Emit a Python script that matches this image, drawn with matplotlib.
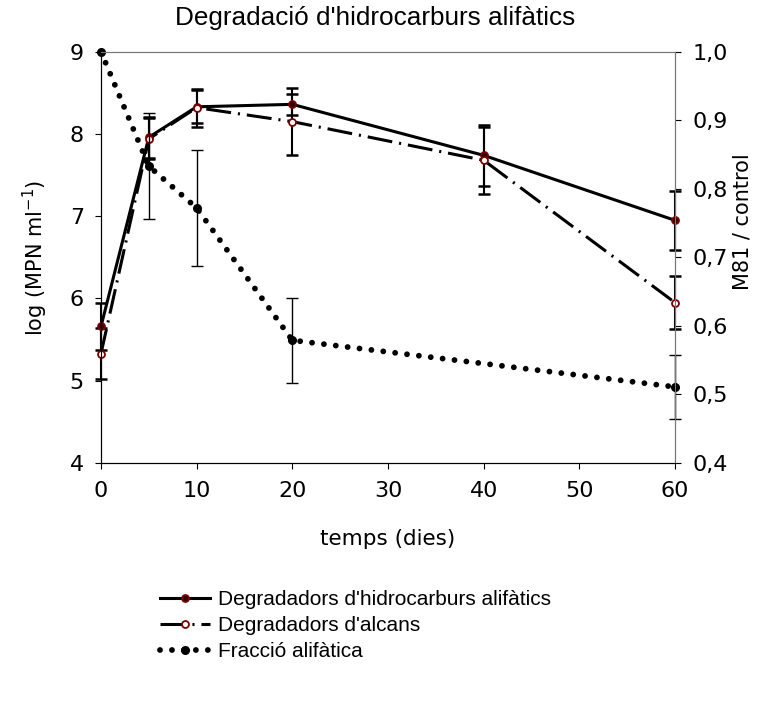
import matplotlib
matplotlib.use('Agg')
import matplotlib.pyplot as plt

# dies de mostreig
days = [0, 5, 10, 20, 40, 60]

# log(MPN/ml) dels degradadors
hidro = [5.66, 7.96, 8.33, 8.36, 7.74, 6.95]
hidro_err = [0.29, 0.25, 0.20, 0.13, 0.37, 0.36]
alcans = [5.33, 7.94, 8.32, 8.15, 7.68, 5.95]
alcans_err = [0.31, 0.25, 0.23, 0.41, 0.41, 0.32]

# fraccio alifatica restant (M81/control)
frac_days = [0, 5, 10, 20, 60]
frac = [1.0, 0.833, 0.772, 0.579, 0.511]
frac_err = [0.0, 0.077, 0.085, 0.062, 0.047]

left_ticks = [4, 5, 6, 7, 8, 9]
right_ticks = [0.4, 0.5, 0.6, 0.7, 0.8, 0.9, 1.0]
right_labels = ['0,4', '0,5', '0,6', '0,7', '0,8', '0,9', '1,0']
x_ticks = [0, 10, 20, 30, 40, 50, 60]

plt.rcParams['lines.scale_dashes'] = False
tick_font = 'DejaVu Sans'
text_font = 'Liberation Sans'
red = '#7a0000'


def no_clip(container):
    # deixa veure les barres d'error sobre els eixos laterals
    for part in container.lines[1:]:
        for artist in part:
            artist.set_clip_on(False)


fig = plt.figure(figsize=(7.79, 7.06), dpi=100, facecolor='white')
ax = fig.add_axes([101/779, 1-463/706, 574/779, 411.3/706])
ax2 = ax.twinx()

ax.plot(days, hidro, color='black', lw=2.2, marker='o', ms=5,
        mfc='#300000', mec=red, mew=1.3, zorder=3, clip_on=False,
        label="Degradadors d'hidrocarburs alifàtics")
no_clip(ax.errorbar(days, hidro, yerr=hidro_err, fmt='none', ecolor='black',
                    elinewidth=1.5, capsize=4.5, capthick=1.8, zorder=2))
ax.plot(days, alcans, color='black', lw=2.2, dashes=(18, 5, 1.5, 5),
        marker='o', ms=5, mfc='white', mec=red, mew=1.3, zorder=3,
        clip_on=False, label="Degradadors d'alcans")
no_clip(ax.errorbar(days, alcans, yerr=alcans_err, fmt='none', ecolor='black',
                    elinewidth=1.5, capsize=4.5, capthick=1.8, zorder=2))

ax2.plot(frac_days, frac, color='black', lw=4.2, linestyle=(0, (0.01, 8.6)),
         dash_capstyle='round', marker='o', ms=5.5, mfc='black', mec='black',
         label='Fracció alifàtica', clip_on=False)
no_clip(ax2.errorbar(frac_days[1:], frac[1:], yerr=frac_err[1:], fmt='none',
                     ecolor='black', elinewidth=1.0, capsize=4.5,
                     capthick=1.0))

ax.set_xlim(0, 60)
ax.set_ylim(4, 9)
ax2.set_ylim(0.4, 1.0)
ax.set_xticks(x_ticks)
ax.set_yticks(left_ticks)
ax2.set_yticks(right_ticks)
ax2.set_yticklabels(right_labels)

for a in (ax, ax2):
    a.tick_params(direction='out', length=4.3, width=0.8, labelsize=16,
                  pad=8)
    for lab in a.get_xticklabels() + a.get_yticklabels():
        lab.set_family(tick_font)
ax.tick_params(axis='x', pad=9)
for s in ('top', 'right'):
    ax2.spines[s].set_color('#777777')
    ax.spines[s].set_color('#777777')

# posicions dels titols d'eix en pixels de la figura
ax.set_ylabel('log (MPN ml$^{-1}$)', fontsize=15, family=tick_font)
ax.yaxis.set_label_coords((35-101)/574, (463-258)/411.3)
ax.yaxis.label.set_va('center')
ax2.set_ylabel('M81 / control', fontsize=15, family=tick_font,
               rotation=90)
ax2.yaxis.set_label_coords((742-101)/574, (463-222)/411.3)
ax2.yaxis.label.set_va('center')
ax.set_xlabel('temps (dies)', fontsize=15.5, family=tick_font)
ax.xaxis.set_label_coords((388-101)/574, (463-539)/411.3)
ax.xaxis.label.set_va('center')

fig.text(375/779, 1-18/706, "Degradació d'hidrocarburs alifàtics",
         ha='center', va='center', fontsize=18.8, family=text_font)

handles = [h for h in ax.get_lines() if not h.get_label().startswith('_')]
handles += [h for h in ax2.get_lines() if not h.get_label().startswith('_')]
fig.legend(handles=handles, loc='upper left',
           bbox_to_anchor=(160/779, 1-590/706),
           frameon=False, prop={'family': text_font, 'size': 15},
           handlelength=2.4, handletextpad=0.4, labelspacing=0.34,
           borderaxespad=0, borderpad=0)

fig.savefig('out.png', dpi=100, facecolor='white')
